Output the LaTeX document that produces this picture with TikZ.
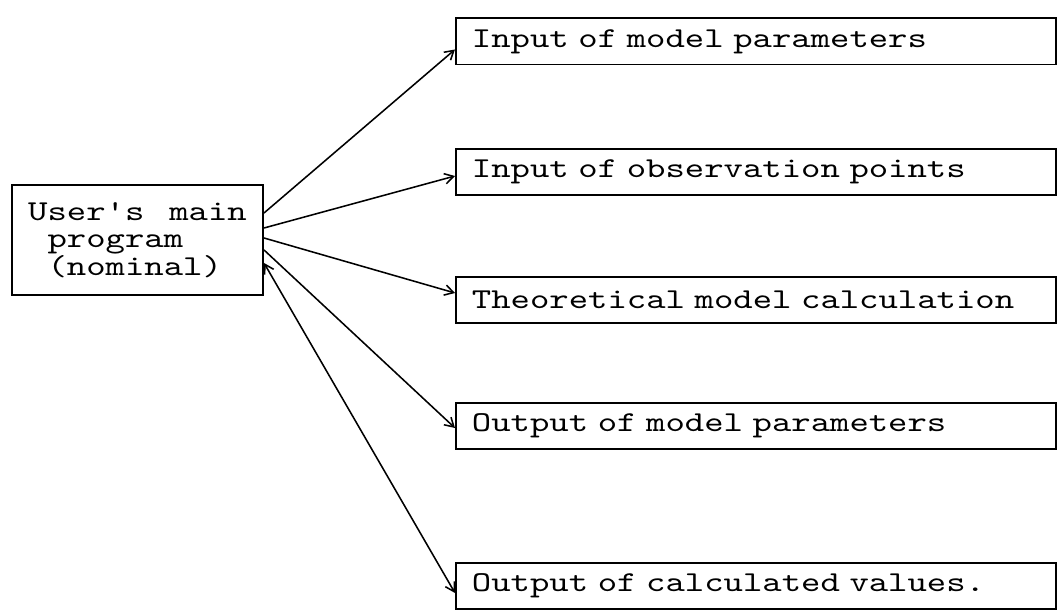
\documentclass[tikz,border=0pt]{standalone}
\usepackage{fontspec}
\setmonofont{lmmono10-regular.otf}[FakeStretch=1.28, WordSpace=1.28]
\usepackage{tikz}
\usetikzlibrary{arrows.meta,calc}

\begin{document}
\begin{tikzpicture}[
      x=0.025cm, y=0.025cm,
      font=\ttfamily\fontsize{20.5}{18.9}\selectfont,
      box/.style={draw, line width=1.4pt, inner sep=0pt},
      prog/.style={box, align=left, minimum width=6.275cm, minimum height=2.75cm},
      sub/.style={box, anchor=west, align=left, text width=14.2cm, inner xsep=0.4cm, minimum height=1.15cm},
      arr/.style={-{Straight Barb[length=2.2mm,width=2.6mm]}, line width=1.1pt}
    ]
    \useasboundingbox (0,0) rectangle (1059,610);
    % main program
    \node[prog] (main) at (137.5,370) {User's main\\\hphantom{U}program\\\hphantom{U}(nominal)};
    % routines
    \node[sub] (inpar) at (455,568.5) {Input of model parameters};
    \node[sub] (inobs) at (455,438) {Input of observation points};
    \node[sub] (theo) at (455,310) {Theoretical model calculation};
    \node[sub] (outpar) at (455,184) {Output of model parameters};
    \node[sub] (outval) at (455,24) {Output of calculated values.};
    % edges
    \draw[arr] ($(main.east)+(0,27)$) -- ($(inpar.west)+(0,-8)$);
    \draw[arr] ($(main.east)+(0,12)$) -- ($(inobs.west)+(0,-4)$);
    \draw[arr] ($(main.east)+(0,2)$) -- ($(theo.west)+(0,7)$);
    \draw[arr] ($(main.east)+(0,-10)$) -- ($(outpar.west)+(0,-2)$);
    \draw[arr, {Straight Barb[length=2.2mm,width=2.6mm]}-{Straight Barb[length=2.2mm,width=2.6mm]}] ($(main.east)+(0,-23)$) -- ($(outval.west)+(0,-7)$);
\end{tikzpicture}
\end{document}
